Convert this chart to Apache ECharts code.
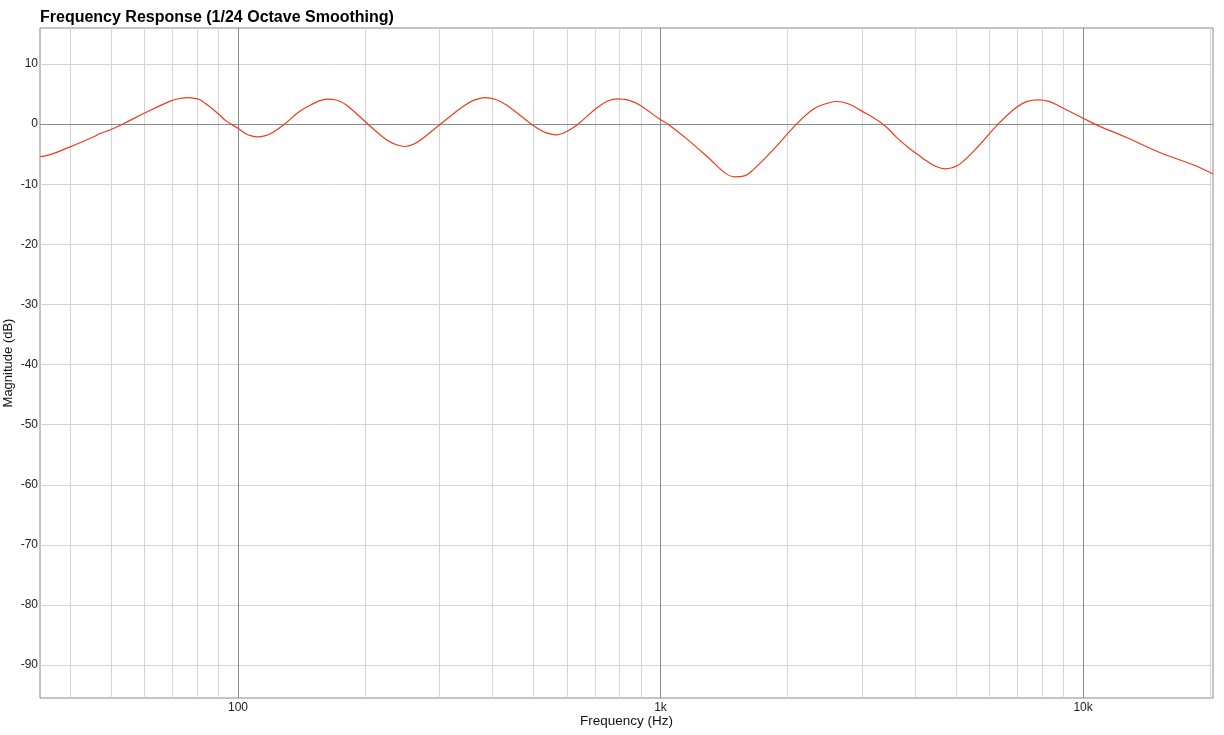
<!DOCTYPE html>
<html>
<head>
<meta charset="utf-8">
<script src="https://cdn.jsdelivr.net/npm/echarts@6/dist/echarts.min.js"></script>
<style>html,body{margin:0;padding:0;background:#fff;}#c{width:1224px;height:735px;}</style>
</head>
<body>
<div id="c"></div>
<script>
// Frequency (Hz) and magnitude (dB)
const freqs = [34, 34.8, 39.9, 45.7, 47.0, 49.6, 53.3, 60.0, 69.4, 72.5, 76.0, 79.0, 81.7, 89.5, 93.7, 100, 104.4, 107.5, 111.3, 115.5, 119.7, 128.8, 139.8, 151.6, 157, 163.1, 167.5, 172.2, 180.5, 203.1, 224.5, 236, 248.0, 261, 274.1, 300.2, 340.8, 362, 383.6, 406, 431.8, 494.9, 527.2, 547, 567.0, 588, 609.8, 637.9, 705.2, 750, 793.5, 818, 845.5, 892.8, 995.7, 1042, 1152, 1308, 1420, 1498, 1580, 1656, 1847, 2098, 2296, 2450, 2609, 2780, 2962, 3362, 3620, 3889, 4108, 4259, 4480, 4707, 4900, 5108, 5594, 6293, 6957, 7380, 7825, 8300, 8809, 10000, 10758, 12668, 15188, 18218, 20300];
const magnitudes = [-5.38, -5.32, -3.82, -2.05, -1.6, -1.0, 0, 1.83, 3.88, 4.25, 4.43, 4.3, 4.0, 1.83, 0.55, -0.67, -1.6, -1.95, -2.1, -1.95, -1.55, 0, 2.1, 3.5, 3.95, 4.16, 4.12, 3.94, 3.2, 0, -2.6, -3.35, -3.71, -3.3, -2.33, -0.1, 2.94, 4.0, 4.43, 4.15, 3.2, 0, -1.22, -1.6, -1.77, -1.5, -0.94, 0, 2.66, 3.85, 4.2, 4.15, 3.94, 3.2, 0.83, 0, -2.4, -5.8, -8.1, -8.76, -8.6, -7.6, -4.27, 0, 2.5, 3.35, 3.77, 3.4, 2.38, 0, -2.2, -4.1, -5.3, -6.1, -7.0, -7.43, -7.25, -6.65, -4.0, 0, 2.83, 3.8, 4.05, 3.8, 2.94, 1.0, -0.11, -2.22, -4.7, -6.76, -8.3];
const majorFreqs = [100, 1000, 10000];
const minorFreqs = [40, 50, 60, 70, 80, 90, 200, 300, 400, 500, 600, 700, 800, 900, 2000, 3000, 4000, 5000, 6000, 7000, 8000, 9000, 20000];
const dbTicks = [10, -10, -20, -30, -40, -50, -60, -70, -80, -90];
const xTickLabels = {100: '100', 1000: '1k', 10000: '10k'};

const FONT = '"Liberation Sans", Arial, Helvetica, sans-serif';
const chart = echarts.init(document.getElementById('c'));

const tickLabel = v => ({show: true, position: 'start', formatter: String(v), distance: 2, color: '#222', fontSize: 12, fontFamily: FONT});
const minorLines = minorFreqs.map(f => ({xAxis: f, label: {show: false}}))
  .concat(dbTicks.map(v => ({yAxis: v, label: tickLabel(v)})));
const majorLines = majorFreqs.map(f => ({xAxis: f, label: {show: false}}))
  .concat([{yAxis: 0, label: tickLabel(0)}]);

chart.setOption({
  animation: false,
  backgroundColor: '#fff',
  title: {
    text: 'Frequency Response (1/24 Octave Smoothing)',
    left: 35, top: 5,
    textStyle: {fontSize: 16, fontWeight: 'bold', color: '#000', fontFamily: FONT}
  },
  grid: {left: 40, top: 28, right: 11, bottom: 37, show: true, borderColor: '#888', borderWidth: 1, backgroundColor: 'transparent', containLabel: false, outerBoundsMode: 'none'},
  xAxis: {
    type: 'log', logBase: 10, min: 34, max: 20300,
    name: 'Frequency (Hz)', nameLocation: 'middle', nameGap: 16, nameMoveOverlap: false,
    nameTextStyle: {fontSize: 13.5, color: '#111', fontFamily: FONT},
    axisLine: {show: false}, axisTick: {show: false}, splitLine: {show: false}, minorTick: {show: false},
    axisLabel: {
      margin: 4, fontSize: 12, color: '#222', fontFamily: FONT,
      formatter: v => { const r = Math.round(v); return xTickLabels[r] || ''; }
    }
  },
  yAxis: {
    type: 'value', min: -95.46, max: 16,
    name: 'Magnitude (dB)', nameLocation: 'middle', nameGap: 25, nameMoveOverlap: false,
    nameTextStyle: {fontSize: 13, color: '#111', fontFamily: FONT},
    axisLine: {show: false}, axisTick: {show: false}, splitLine: {show: false},
    axisLabel: {show: false}
  },
  series: [
    {type: 'line', data: [], z: 1, silent: true,
     markLine: {silent: true, symbol: 'none', animation: false,
       lineStyle: {color: '#d4d4d4', width: 1, type: 'solid'}, emphasis: {disabled: true}, data: minorLines}},
    {type: 'line', data: [], z: 2, silent: true,
     markLine: {silent: true, symbol: 'none', animation: false,
       lineStyle: {color: '#8c8c8c', width: 1, type: 'solid'}, emphasis: {disabled: true}, data: majorLines}},
    {type: 'line', z: 5, showSymbol: false, smooth: 0.4, clip: true,
     lineStyle: {color: '#ee3a1c', width: 1.2},
     data: freqs.map((f, i) => [f, magnitudes[i]])}
  ]
});
</script>
</body>
</html>
